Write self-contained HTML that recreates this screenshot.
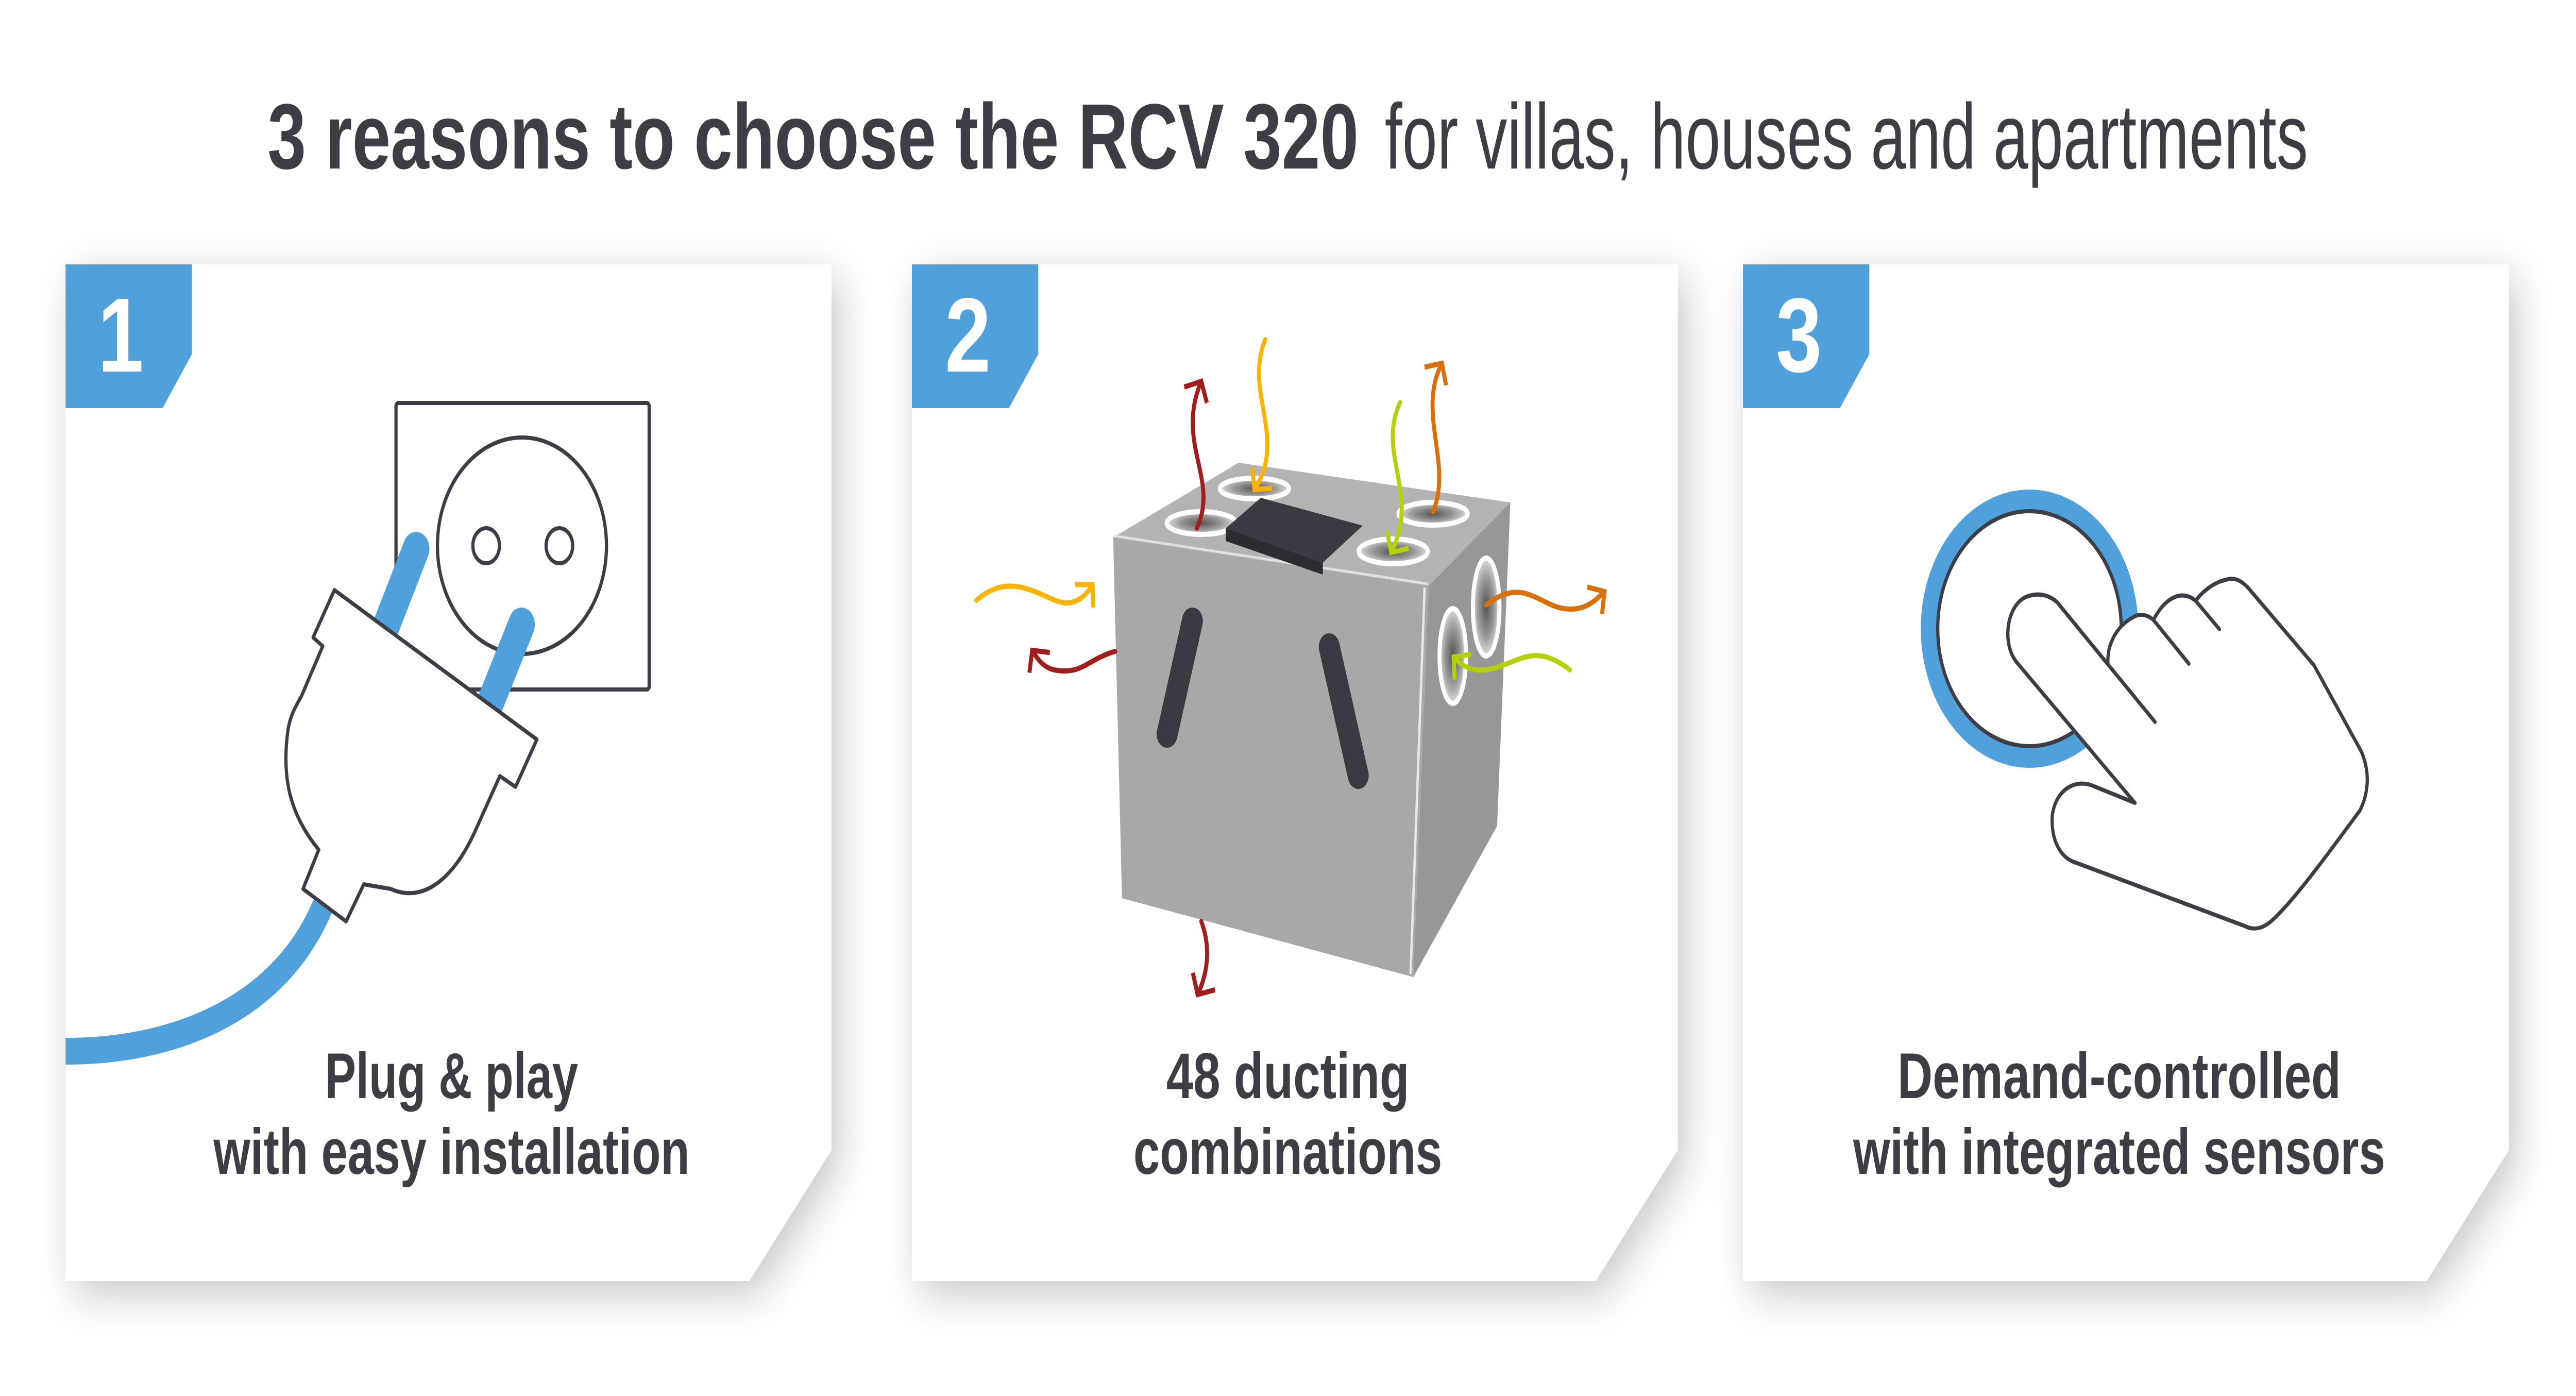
<!DOCTYPE html>
<html><head><meta charset="utf-8"><style>
html,body{margin:0;padding:0;background:#fff;width:100%;height:100%;overflow:hidden;}
svg{display:block;width:100vw;height:100vh;}
text{font-family:"Liberation Sans",sans-serif;}
</style></head><body>
<svg viewBox="0 0 6401 2709" preserveAspectRatio="none" xmlns="http://www.w3.org/2000/svg">
<defs>
<filter id="sh" x="-10%" y="-10%" width="120%" height="120%">
<feGaussianBlur in="SourceAlpha" stdDeviation="45"/>
<feOffset dx="20" dy="25"/>
<feComponentTransfer><feFuncA type="linear" slope="0.22"/></feComponentTransfer>
<feMerge><feMergeNode/><feMergeNode in="SourceGraphic"/></feMerge>
</filter>
<marker id="mr" markerUnits="userSpaceOnUse" markerWidth="80" markerHeight="80" refX="40" refY="40" orient="auto" viewBox="0 0 80 80"><path d="M10,8 L40,40 L10,72" fill="none" stroke="#a01e1e" stroke-width="10"/></marker>
<marker id="my" markerUnits="userSpaceOnUse" markerWidth="80" markerHeight="80" refX="40" refY="40" orient="auto" viewBox="0 0 80 80"><path d="M10,8 L40,40 L10,72" fill="none" stroke="#f6b400" stroke-width="10"/></marker>
<marker id="mo" markerUnits="userSpaceOnUse" markerWidth="80" markerHeight="80" refX="40" refY="40" orient="auto" viewBox="0 0 80 80"><path d="M10,8 L40,40 L10,72" fill="none" stroke="#d9700a" stroke-width="10"/></marker>
<marker id="ml" markerUnits="userSpaceOnUse" markerWidth="80" markerHeight="80" refX="40" refY="40" orient="auto" viewBox="0 0 80 80"><path d="M10,8 L40,40 L10,72" fill="none" stroke="#b5cf0a" stroke-width="10"/></marker>
<radialGradient id="port" cx="50%" cy="50%" r="50%"><stop offset="0" stop-color="#555"/><stop offset="0.6" stop-color="#999"/><stop offset="1" stop-color="#ddd"/></radialGradient>
</defs>

<text x="665" y="327" font-size="180" font-weight="bold" fill="#3d3d45" textLength="2711" lengthAdjust="spacingAndGlyphs">3 reasons to choose the RCV 320</text>
<text x="5735" y="327" text-anchor="end" font-size="180" fill="#3d3d45" textLength="2294" lengthAdjust="spacingAndGlyphs">for villas, houses and apartments</text>

<g filter="url(#sh)" fill="#fff">
<path d="M163,513 H2066 V2232 L1862,2486 H163 Z"/>
<path d="M2266,513 H4169 V2232 L3965,2486 H2266 Z"/>
<path d="M4331,513 H6234 V2232 L6030,2486 H4331 Z"/>
</g>

<g fill="#50a0dc">
<path d="M163,513 H477 V687 L404,792 H163 Z"/>
<path d="M2266,513 H2580 V687 L2507,792 H2266 Z"/>
<path d="M4331,513 H4645 V687 L4572,792 H4331 Z"/>
</g>
<g fill="#fff" font-size="205" font-weight="bold" text-anchor="middle">
<text x="300" y="721">1</text>
<text x="2405" y="721">2</text>
<text x="4470" y="721">3</text>
</g>

<g fill="#3d3d45" font-size="125" font-weight="bold" text-anchor="middle">
<text x="1122" y="2131" textLength="629" lengthAdjust="spacingAndGlyphs">Plug &amp; play</text>
<text x="1122" y="2278" textLength="1183" lengthAdjust="spacingAndGlyphs">with easy installation</text>
<text x="3200" y="2131" textLength="604" lengthAdjust="spacingAndGlyphs">48 ducting</text>
<text x="3200" y="2278" textLength="767" lengthAdjust="spacingAndGlyphs">combinations</text>
<text x="5266" y="2131" textLength="1102" lengthAdjust="spacingAndGlyphs">Demand-controlled</text>
<text x="5266" y="2278" textLength="1322" lengthAdjust="spacingAndGlyphs">with integrated sensors</text>
</g>

<g stroke="#3d3d45" stroke-width="8" fill="none">
<rect x="984" y="782" width="629" height="556" rx="6"/>
<circle cx="1297" cy="1059" r="210" fill="#fff"/>
<ellipse cx="1208" cy="1059" rx="33" ry="34"/>
<ellipse cx="1390" cy="1059" rx="33" ry="34"/>
</g>
<g stroke="#50a0dc" stroke-linecap="round" fill="none">
<line x1="1034" y1="1065" x2="952" y2="1230" stroke-width="66"/>
<line x1="1296" y1="1212" x2="1205" y2="1390" stroke-width="66"/>
<path d="M802,1758 C700,1950 450,2040 163,2040" stroke-width="52" stroke-linecap="butt"/>
</g>
<path d="M831,1145 L1334,1435 L1281,1527 L1242,1506 L1184,1607 C1120,1720 1040,1750 971,1725 L904,1716 L860,1788 L753,1725 L792,1649 C720,1580 700,1510 715,1420 C720,1390 735,1370 749,1351 L802,1254 L778,1237 Z" fill="#fff" stroke="#3d3d45" stroke-width="8" stroke-linejoin="round"/>

<polygon points="2766,1043 3078,898 3753,975 3550,1137" fill="#b3b3b3"/>
<polygon points="3550,1137 3753,975 3720,1603 3512,1896" fill="#979797"/>
<polygon points="2766,1043 3550,1137 3512,1896 2788,1743" fill="#a8a8a8"/>
<line x1="3540" y1="1140" x2="3505" y2="1890" stroke="#e8e8e8" stroke-width="6"/>
<line x1="2770" y1="1040" x2="3548" y2="1133" stroke="#e0e0e0" stroke-width="5"/>
<g stroke="#fff" stroke-width="10" fill="url(#port)">
<ellipse cx="3117" cy="948" rx="86" ry="20"/>
<ellipse cx="2985" cy="1015" rx="86" ry="22"/>
<ellipse cx="3561" cy="997" rx="86" ry="22"/>
<ellipse cx="3462" cy="1070" rx="86" ry="24"/>
<ellipse cx="3693" cy="1178" rx="33" ry="95"/>
<ellipse cx="3610" cy="1273" rx="33" ry="92"/>
</g>
<polygon points="3046,1025 3133,966 3386,1020 3287,1092" fill="#3a3b42"/>
<polygon points="3046,1025 3287,1092 3287,1115 3046,1050" fill="#2b2c32"/>
<g stroke="#3a3b42" stroke-width="52" stroke-linecap="round">
<line x1="2963" y1="1205" x2="2900" y2="1425"/>
<line x1="3303" y1="1255" x2="3375" y2="1505"/>
</g>
<g fill="none" stroke-width="10" stroke-linecap="round">
<path d="M2974,1025 C3030,930 2920,860 2985,740" stroke="#a01e1e" marker-end="url(#mr)"/>
<path d="M3144,659 C3090,760 3200,850 3117,950" stroke="#f6b400" marker-end="url(#my)"/>
<path d="M3479,781 C3420,880 3530,960 3457,1072" stroke="#b5cf0a" marker-end="url(#ml)"/>
<path d="M3561,993 C3610,900 3520,800 3583,705" stroke="#d9700a" marker-end="url(#mo)"/>
<path d="M2426,1165 C2520,1100 2600,1170 2650,1170 C2690,1170 2710,1140 2715,1135" stroke="#f6b400" marker-end="url(#my)"/>
<path d="M2771,1264 C2700,1280 2690,1310 2620,1300 C2590,1295 2575,1275 2565,1262" stroke="#a01e1e" marker-end="url(#mr)"/>
<path d="M3693,1174 C3780,1120 3820,1170 3880,1180 C3940,1190 3970,1160 3987,1148" stroke="#d9700a" marker-end="url(#mo)"/>
<path d="M3901,1300 C3820,1250 3780,1280 3720,1295 C3660,1310 3630,1290 3612,1275" stroke="#b5cf0a" marker-end="url(#ml)"/>
<path d="M2985,1788 C3010,1840 3000,1890 2976,1930" stroke="#a01e1e" marker-end="url(#mr)"/>
</g>

<circle cx="5043" cy="1220" r="249" fill="none" stroke="#50a0dc" stroke-width="42"/>
<circle cx="5043" cy="1220" r="228" fill="#fff" stroke="#3d3d45" stroke-width="8"/>
<g stroke="#3d3d45" stroke-width="8" fill="#fff" stroke-linejoin="round" stroke-linecap="round">
<path d="M5011,1285 C4975,1250 4985,1180 5030,1160 C5070,1145 5100,1160 5112,1169 L5355,1401"/>
<path d="M5011,1285 L5305,1558 L5204,1526 C5160,1510 5110,1530 5100,1580 C5095,1630 5120,1665 5158,1674 L5578,1797 C5595,1804 5615,1805 5640,1790 C5700,1750 5800,1640 5864,1573 C5885,1540 5890,1500 5868,1459 L5750,1291 L5591,1145 C5570,1125 5550,1120 5532,1125 C5500,1130 5470,1150 5456,1166 C5440,1155 5420,1152 5400,1160 C5375,1170 5360,1190 5351,1203 C5335,1192 5315,1190 5300,1198 C5260,1215 5235,1250 5238,1288 Z" stroke="none"/>
<path d="M5305,1558 L5204,1526 C5160,1510 5110,1530 5100,1580 C5095,1630 5120,1665 5158,1674 L5578,1797 C5595,1804 5615,1805 5640,1790 C5700,1750 5800,1640 5864,1573 C5885,1540 5890,1500 5868,1459 L5750,1291 L5591,1145 C5570,1125 5550,1120 5532,1125 C5500,1130 5470,1150 5456,1166" fill="none"/>
<path d="M5011,1285 C4975,1250 4985,1180 5030,1160 C5070,1145 5100,1160 5112,1169 L5355,1401 M5011,1285 L5305,1558" fill="none"/>
<path d="M5238,1288 C5235,1250 5260,1215 5300,1198 C5315,1190 5335,1192 5351,1203 L5439,1288" fill="none"/>
<path d="M5351,1203 C5360,1190 5375,1170 5400,1160 C5420,1152 5440,1155 5456,1166 L5515,1221" fill="none"/>
</g>
</svg>
</body></html>
